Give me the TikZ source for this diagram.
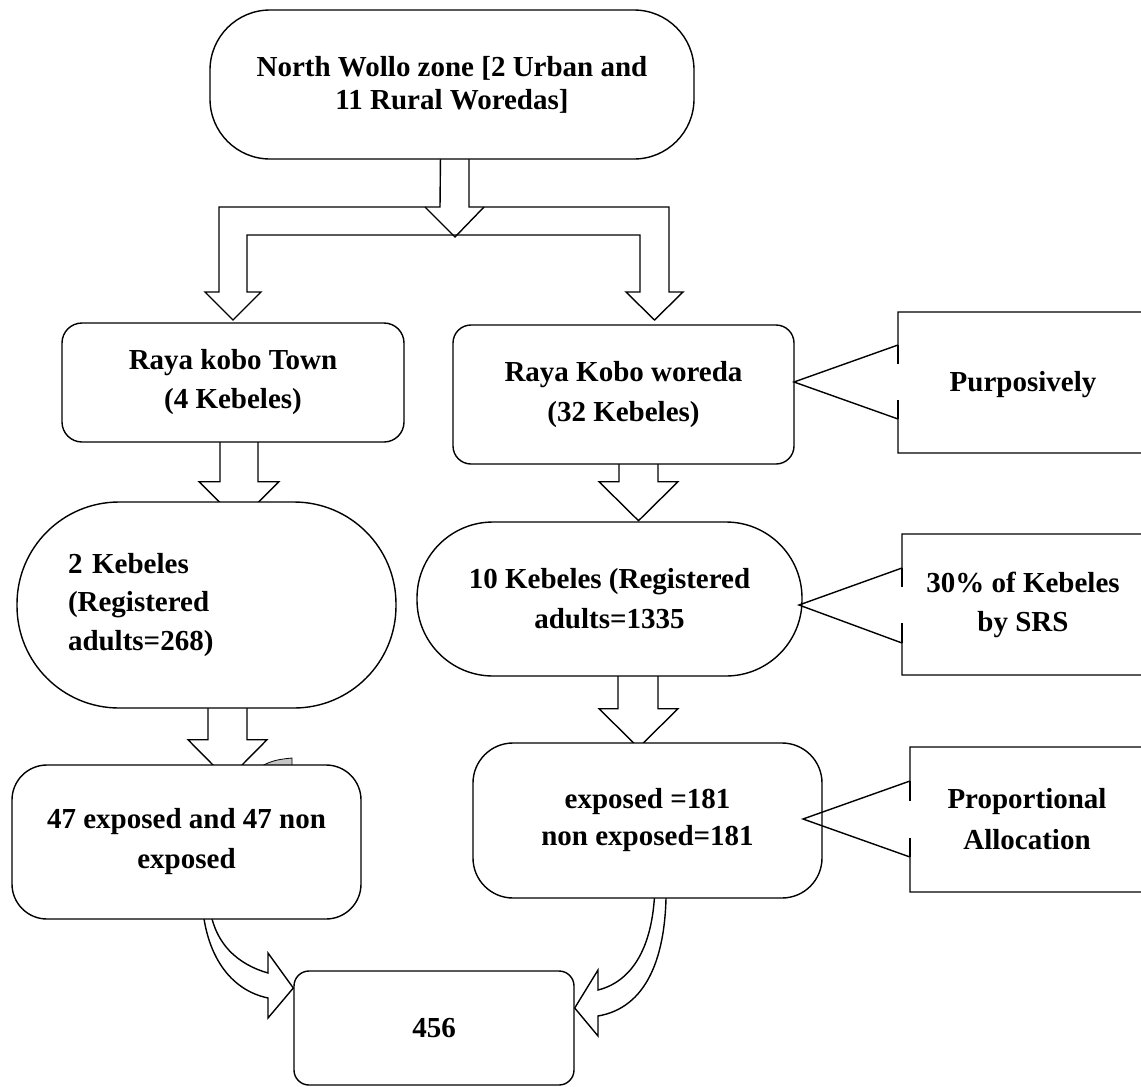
\documentclass[tikz,border=0pt]{standalone}
\usepackage{fontspec}
\setmainfont{Liberation Serif}
\usetikzlibrary{calc}
\pgfdeclarelayer{bg}
\pgfsetlayers{bg,main}
\newcommand{\fs}[1]{\bfseries\fontsize{29}{#1}\selectfont}
\begin{document}
\begin{tikzpicture}[x=1pt,y=-1pt,
  ln/.style={line width=1.4pt, line join=miter},
  box/.style={ln, draw, fill=white, rectangle, inner sep=0pt, align=center},
  txt/.style={inner sep=0pt, align=center, font=\fs{40}},
  tick/.style={line width=2.8pt}
]
\useasboundingbox (0,0) rectangle (1141,1087);

% ---- nodes ----
\node[box, rounded corners=60, minimum width=484, minimum height=149, font=\fs{33}] (zone) at (452,84.5) {North Wollo zone [2 Urban and\\11 Rural Woredas]};
\node[box, rounded corners=20, minimum width=342, minimum height=119, font=\fs{39}] (town) at (233,382.5) {Raya kobo Town\\(4 Kebeles)};
\node[box, rounded corners=18, minimum width=341, minimum height=139, font=\fs{40}] (woreda) at (623.5,394.5) {Raya Kobo woreda\\(32 Kebeles)};
\node[box, rounded corners=102, minimum width=379, minimum height=206, text width=277, align=left, font=\fs{38.5}] (keb2) at (206.5,605) {2 Kebeles\\(Registered\\adults=268)};
\node[box, rounded corners=76, minimum width=385, minimum height=154, font=\fs{40}] (keb10) at (609.5,599) {10 Kebeles (Registered\\adults=1335};
\node[box, rounded corners=35, minimum width=349, minimum height=154, font=\fs{40}] (exp47) at (186.5,842) {47 exposed and 47 non\\exposed};
\node[box, rounded corners=40, minimum width=349, minimum height=155, font=\fs{37}] (exp181) at (647.5,820.5) {exposed =181\\non exposed=181};
\node[box, rounded corners=15, minimum width=280, minimum height=114, font=\fs{36}] (total) at (434,1028) {456};

\node[txt] (purp) at (1023,385) {Purposively};
\node[txt, font=\fs{39}] (srs) at (1023,604.5) {30\% of Kebeles\\by SRS};
\node[txt, font=\fs{41}] (prop) at (1027,819.5) {Proportional\\Allocation};

% ---- callout outlines ----
\coordinate (t1) at (794,382);
\coordinate (t2) at (799,605);
\coordinate (t3) at (803,819);
\draw[ln] (1141,312) -- (898,312) -- (898,345) -- (t1) -- (898,419) -- (898,453) -- (1141,453);
\draw[tick] (898,345) -- (898,364) (898,400) -- (898,419);
\draw[ln] (1141,534) -- (902,534) -- (902,568) -- (t2) -- (902,643) -- (902,675) -- (1141,675);
\draw[tick] (902,568) -- (902,587) (902,623) -- (902,643);
\draw[ln] (1141,747) -- (910,747) -- (910,781) -- (t3) -- (910,857) -- (910,892) -- (1141,892);
\draw[tick] (910,781) -- (910,801) (910,838) -- (910,857);

% ---- block arrows (behind nodes) ----
\begin{pgfonlayer}{bg}
% split arrow from zone
\draw[ln] ($(zone.south)+(-11.5,-5)$) coordinate (s0)
  -- (440,207) -- (219,207) -- (219,292) -- (205,292) -- (233,320) -- (261,292) -- (247,292)
  -- (247,235) -- (640,235) -- (640,292) -- (626,292) -- (654.5,320) -- (683,292) -- (669,292)
  -- (669,207) -- (469,207) -- (469,154) -- cycle;
\draw[ln] (425,207) -- (455,237) -- (484,207);
% town -> keb2
\draw[ln] ($(town.south)+(-13,-5)$) -- ++(0,44) -- ++(-21,0) -- ++(40,40) -- ++(40,-40) -- ++(-21,0) -- ++(0,-44) -- cycle;
% woreda -> keb10
\draw[ln] ($(woreda.south)+(-4.5,-5)$) -- ++(0,22) -- ++(-20,0) -- ++(39.5,39) -- ++(39.5,-39) -- ++(-20,0) -- ++(0,-22) -- cycle;
% keb2 -> exp47
\draw[ln] ($(keb2.south)+(1.5,-5)$) -- ++(0,36) -- ++(-20,0) -- ++(39.5,40) -- ++(39.5,-40) -- ++(-20,0) -- ++(0,-36) -- cycle;
% keb10 -> exp181
\draw[ln] ($(keb10.south)+(8.5,-5)$) -- ++(0,37) -- ++(-19,0) -- ++(39.5,39) -- ++(39.5,-39) -- ++(-20,0) -- ++(0,-37) -- cycle;
% curved arrow exp47 -> total
\draw[ln] (202,900) .. controls (205,955) and (230,990) .. (268,998) -- (268,1018) -- (total.west |- 0,988) -- (268,953) -- (268,973) .. controls (240,965) and (212,945) .. (209,900);
% curved arrow exp181 -> total
\draw[ln] (655,880) .. controls (655,950) and (630,982) .. (598,990) -- (598,970) -- (total.east |- 0,1008) -- (598,1036) -- (598,1016) .. controls (645,1008) and (668,960) .. (666,880);
% small grey sliver
\draw[line width=0.8pt, fill=gray!45] (262,766) .. controls (272,760) and (282,759) .. (292,758) -- (292,766) -- cycle;
\end{pgfonlayer}
\end{tikzpicture}
\end{document}
